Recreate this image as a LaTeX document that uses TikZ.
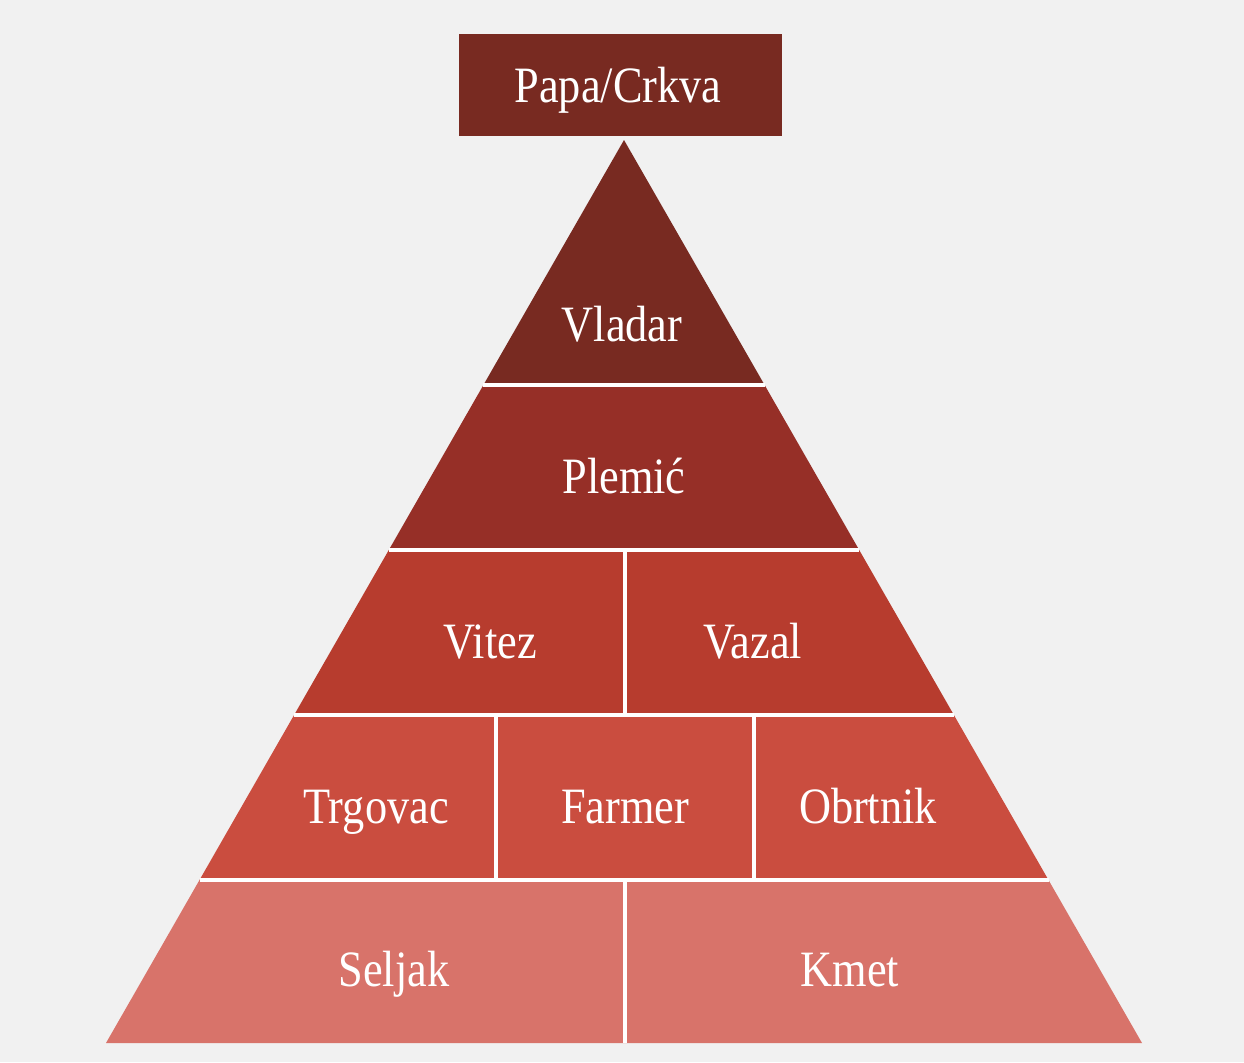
\documentclass[tikz,border=0pt]{standalone}
\usepackage{fontspec}
\setmainfont[FakeStretch=0.87]{Liberation Serif}
\usetikzlibrary{calc,positioning}
\definecolor{bgGray}{HTML}{F1F1F1}
\definecolor{rankA}{HTML}{782A21}
\definecolor{rankB}{HTML}{962F27}
\definecolor{rankC}{HTML}{B73C2E}
\definecolor{rankD}{HTML}{CA4D3F}
\definecolor{rankE}{HTML}{D8736A}
\tikzstyle{rank} = [text=white, anchor=base, inner sep=0pt, font=\fontsize{29}{35}\selectfont]
\tikzstyle{divider} = [draw=white, line width=2.3pt]

\begin{document}
\begin{tikzpicture}[x=0.02cm, y=-0.02cm]

        \fill[bgGray] (0,0) rectangle (1244,1062);

        % top box
        \fill[rankA] (459,34) rectangle (782,136);
        \node[rank] (papa) at (618,102) {Papa/Crkva};

        % pyramid layers
        \fill[rankA] (624,140) -- (764.6,385) -- (483.4,385) -- cycle;
        \fill[rankB] (483.4,385) -- (764.6,385) -- (859.2,550) -- (388.8,550) -- cycle;
        \fill[rankC] (388.8,550) -- (859.2,550) -- (953.9,715) -- (294.1,715) -- cycle;
        \fill[rankD] (294.1,715) -- (953.9,715) -- (1048.5,880) -- (199.5,880) -- cycle;
        \fill[rankE] (199.5,880) -- (1048.5,880) -- (1142,1043) -- (106,1043) -- cycle;

        \draw[divider] (483.4,385) -- (764.6,385);
        \draw[divider] (388.8,550) -- (859.2,550);
        \draw[divider] (294.1,715) -- (953.9,715);
        \draw[divider] (199.5,880) -- (1048.5,880);
        \draw[divider] (625,550) -- (625,715);
        \draw[divider] (496,715) -- (496,880);
        \draw[divider] (754,715) -- (754,880);
        \draw[divider] (625,880) -- (625,1043);

        \node[rank] (vladar) at (622,341) {Vladar};
        \node[rank] (plemic) at (624,493) {Plemić};
        \node[rank] (vitez) at (490,658) {Vitez};
        \node[rank] (vazal) at (753,658) {Vazal};
        \node[rank] (trgovac) at (376,823) {Trgovac};
        \node[rank] (farmer) at (625,823) {Farmer};
        \node[rank] (obrtnik) at (868,823) {Obrtnik};
        \node[rank] (seljak) at (394,986) {Seljak};
        \node[rank] (kmet) at (850,986) {Kmet};

    \end{tikzpicture}
\end{document}
